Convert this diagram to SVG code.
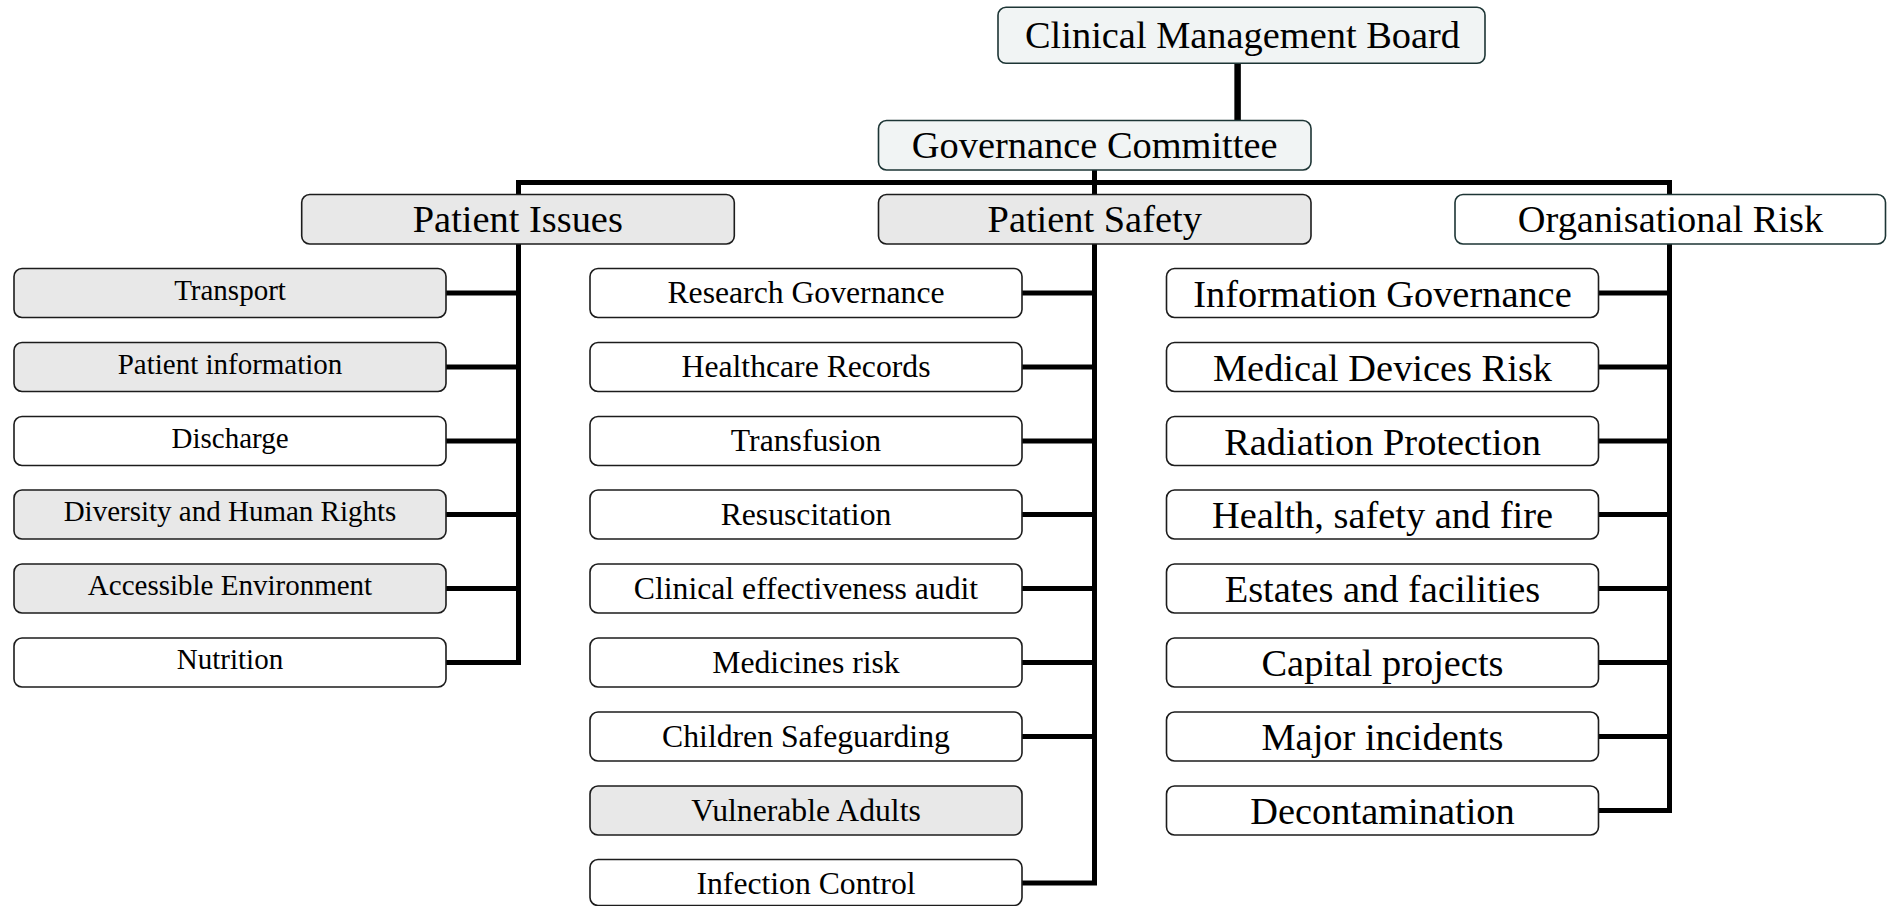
<svg xmlns="http://www.w3.org/2000/svg" width="1887" height="906" viewBox="0 0 1887 906">
  <style>
    .bg { fill: #ffffff; }
    .wire { fill: none; stroke: #000000; stroke-width: 5; stroke-linejoin: miter; stroke-linecap: butt; }
    .box { stroke: #1c1c1c; stroke-width: 1.6; }
    .grey { fill: #e8e8e8; }
    .white { fill: #ffffff; }
    .pale { fill: #f1f4f4; stroke: #1d3535; }
    .teal { fill: #ffffff; stroke: #1d3535; }
    text { font-family: "Liberation Serif", "Times New Roman", serif; fill: #000000; text-anchor: middle; }
    .t1 { font-size: 38.4px; }
    .tl { font-size: 29px; }
    .tm { font-size: 31.7px; }
    .tr { font-size: 38.4px; }
  </style>

  <rect class="bg" x="0" y="0" width="1887" height="906"/>

  <!-- connectors -->
  <g id="connectors">
    <line class="wire" x1="1237.6" y1="63" x2="1237.6" y2="121" style="stroke-width:6.5"/>
    <path class="wire" d="M446,662.5 H518.5 V182.5 H1669.5 V810.5 H1598.5"/>
    <path class="wire" d="M1094.5,170 V883 H1022"/>
    <!-- Patient Issues branches -->
    <path class="wire" d="M446,293 H518.5 M446,367 H518.5 M446,441 H518.5 M446,514.5 H518.5 M446,588.5 H518.5"/>
    <!-- Patient Safety branches -->
    <path class="wire" d="M1022,293 H1094.5 M1022,367 H1094.5 M1022,441 H1094.5 M1022,514.5 H1094.5 M1022,588.5 H1094.5 M1022,662.5 H1094.5 M1022,736.5 H1094.5"/>
    <!-- Organisational Risk branches -->
    <path class="wire" d="M1598.5,293 H1669.5 M1598.5,367 H1669.5 M1598.5,441 H1669.5 M1598.5,514.5 H1669.5 M1598.5,588.5 H1669.5 M1598.5,662.5 H1669.5 M1598.5,736.5 H1669.5"/>
  </g>

  <!-- top levels -->
  <g id="clinical-management-board">
    <rect class="box pale" x="998" y="7.3" width="487" height="56" rx="8"/>
    <text class="t1" x="1242.5" y="48">Clinical Management Board</text>
  </g>
  <g id="governance-committee">
    <rect class="box pale" x="878.5" y="120.5" width="432.5" height="49.5" rx="8"/>
    <text class="t1" x="1094.7" y="158">Governance Committee</text>
  </g>
  <g id="patient-issues">
    <rect class="box grey" x="301.7" y="194.5" width="432.6" height="49.5" rx="8"/>
    <text class="t1" x="517.8" y="231.9">Patient Issues</text>
  </g>
  <g id="patient-safety">
    <rect class="box grey" x="878.5" y="194.5" width="432.5" height="49.5" rx="8"/>
    <text class="t1" x="1094.7" y="231.9">Patient Safety</text>
  </g>
  <g id="organisational-risk">
    <rect class="box teal" x="1455" y="194.5" width="430.5" height="49.5" rx="8"/>
    <text class="t1" x="1670.5" y="231.9">Organisational Risk</text>
  </g>

  <!-- Patient Issues column -->
  <g id="transport">
    <rect class="box grey" x="14" y="268.5" width="432" height="49" rx="8"/>
    <text class="tl" x="230" y="299.5">Transport</text>
  </g>
  <g id="patient-information">
    <rect class="box grey" x="14" y="342.5" width="432" height="49" rx="8"/>
    <text class="tl" x="230" y="373.5">Patient information</text>
  </g>
  <g id="discharge">
    <rect class="box white" x="14" y="416.5" width="432" height="49" rx="8"/>
    <text class="tl" x="230" y="447.5">Discharge</text>
  </g>
  <g id="diversity">
    <rect class="box grey" x="14" y="490" width="432" height="49" rx="8"/>
    <text class="tl" x="230" y="521">Diversity and Human Rights</text>
  </g>
  <g id="accessible-environment">
    <rect class="box grey" x="14" y="564" width="432" height="49" rx="8"/>
    <text class="tl" x="230" y="595">Accessible Environment</text>
  </g>
  <g id="nutrition">
    <rect class="box white" x="14" y="638" width="432" height="49" rx="8"/>
    <text class="tl" x="230" y="669">Nutrition</text>
  </g>

  <!-- Patient Safety column -->
  <g id="research-governance">
    <rect class="box white" x="590" y="268.5" width="432" height="49" rx="8"/>
    <text class="tm" x="806" y="303">Research Governance</text>
  </g>
  <g id="healthcare-records">
    <rect class="box white" x="590" y="342.5" width="432" height="49" rx="8"/>
    <text class="tm" x="806" y="377">Healthcare Records</text>
  </g>
  <g id="transfusion">
    <rect class="box white" x="590" y="416.5" width="432" height="49" rx="8"/>
    <text class="tm" x="806" y="451">Transfusion</text>
  </g>
  <g id="resuscitation">
    <rect class="box white" x="590" y="490" width="432" height="49" rx="8"/>
    <text class="tm" x="806" y="524.5">Resuscitation</text>
  </g>
  <g id="clinical-effectiveness-audit">
    <rect class="box white" x="590" y="564" width="432" height="49" rx="8"/>
    <text class="tm" x="806" y="598.5">Clinical effectiveness audit</text>
  </g>
  <g id="medicines-risk">
    <rect class="box white" x="590" y="638" width="432" height="49" rx="8"/>
    <text class="tm" x="806" y="672.5">Medicines risk</text>
  </g>
  <g id="children-safeguarding">
    <rect class="box white" x="590" y="712" width="432" height="49" rx="8"/>
    <text class="tm" x="806" y="746.5">Children Safeguarding</text>
  </g>
  <g id="vulnerable-adults">
    <rect class="box grey" x="590" y="786" width="432" height="49" rx="8"/>
    <text class="tm" x="806" y="820.5">Vulnerable Adults</text>
  </g>
  <g id="infection-control">
    <rect class="box white" x="590" y="859.5" width="432" height="46" rx="8"/>
    <text class="tm" x="806" y="894">Infection Control</text>
  </g>

  <!-- Organisational Risk column -->
  <g id="information-governance">
    <rect class="box white" x="1166.5" y="268.5" width="432" height="49" rx="8"/>
    <text class="tr" x="1382.5" y="306.5">Information Governance</text>
  </g>
  <g id="medical-devices-risk">
    <rect class="box white" x="1166.5" y="342.5" width="432" height="49" rx="8"/>
    <text class="tr" x="1382.5" y="380.5">Medical Devices Risk</text>
  </g>
  <g id="radiation-protection">
    <rect class="box white" x="1166.5" y="416.5" width="432" height="49" rx="8"/>
    <text class="tr" x="1382.5" y="454.5">Radiation Protection</text>
  </g>
  <g id="health-safety-fire">
    <rect class="box white" x="1166.5" y="490" width="432" height="49" rx="8"/>
    <text class="tr" x="1382.5" y="528">Health, safety and fire</text>
  </g>
  <g id="estates-facilities">
    <rect class="box white" x="1166.5" y="564" width="432" height="49" rx="8"/>
    <text class="tr" x="1382.5" y="602">Estates and facilities</text>
  </g>
  <g id="capital-projects">
    <rect class="box white" x="1166.5" y="638" width="432" height="49" rx="8"/>
    <text class="tr" x="1382.5" y="676">Capital projects</text>
  </g>
  <g id="major-incidents">
    <rect class="box white" x="1166.5" y="712" width="432" height="49" rx="8"/>
    <text class="tr" x="1382.5" y="750">Major incidents</text>
  </g>
  <g id="decontamination">
    <rect class="box white" x="1166.5" y="786" width="432" height="49" rx="8"/>
    <text class="tr" x="1382.5" y="824">Decontamination</text>
  </g>
</svg>
